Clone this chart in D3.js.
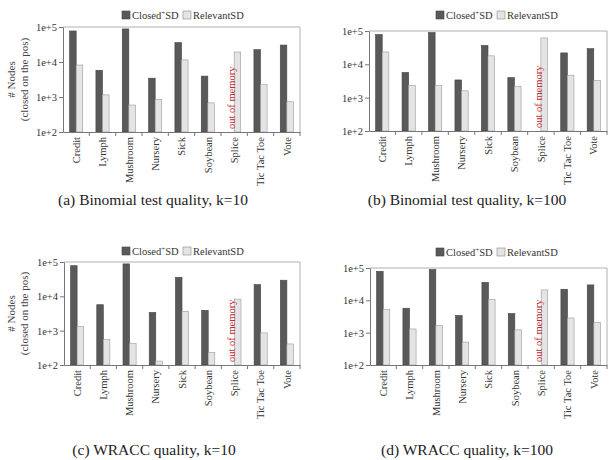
<!DOCTYPE html>
<html>
<head>
<meta charset="utf-8">
<script src="https://cdn.jsdelivr.net/npm/d3@7"></script>
<style>
  body { margin: 0; background: #fff; }
  text { font-family: "Liberation Serif", "Times New Roman", serif; }
</style>
</head>
<body>
<div id="chart"></div>
<script>
// datasets on the x axis
var categories = ["Credit", "Lymph", "Mushroom", "Nursery", "Sick", "Soybean", "Splice", "Tic Tac Toe", "Vote"];
var tickValues = [1e2, 1e3, 1e4, 1e5];
var tickLabels = ["1e+2", "1e+3", "1e+4", "1e+5"];

// # nodes, null = out of memory
var closedBinom10   = [77000, 5800, 88000, 3450, 35800, 3950, null, 22500, 30500];
var relevantBinom10 = [8200, 1150, 590, 860, 11500, 680, 19300, 2250, 730];
var closedBinom100   = [78000, 5700, 90000, 3400, 37000, 4000, null, 22000, 29500];
var relevantBinom100 = [23500, 2300, 2300, 1600, 18000, 2150, 62000, 4700, 3300];
var closedWracc10   = [78000, 5700, 88000, 3400, 35700, 3900, null, 22000, 29500];
var relevantWracc10 = [1340, 550, 420, 130, 3650, 235, 8300, 860, 410];
var closedWracc100   = [79000, 5700, 90000, 3400, 36000, 3900, null, 22000, 30000];
var relevantWracc100 = [5300, 1300, 1650, 510, 10800, 1220, 21000, 2850, 2050];

var panels = [
  {closed: closedBinom10, relevant: relevantBinom10, caption: "(a) Binomial test quality, k=10",
   left: 63, right: 300, top: 27, bottom: 132, legendX: 122, legendY: 15, capX: 153, capY: 205, yTitle: true},
  {closed: closedBinom100, relevant: relevantBinom100, caption: "(b) Binomial test quality, k=100",
   left: 369, right: 607, top: 31, bottom: 131, legendX: 436, legendY: 15, capX: 467, capY: 205, yTitle: false},
  {closed: closedWracc10, relevant: relevantWracc10, caption: "(c) WRACC quality, k=10",
   left: 64, right: 300, top: 262, bottom: 365, legendX: 122, legendY: 251, capX: 154, capY: 455, yTitle: true},
  {closed: closedWracc100, relevant: relevantWracc100, caption: "(d) WRACC quality, k=100",
   left: 370, right: 607, top: 268, bottom: 365, legendX: 436, legendY: 252, capX: 467, capY: 455, yTitle: false}
];

var darkFill = "#595959", lightFill = "#e4e4e4";

var svg = d3.select("#chart")
  .append("svg")
    .attr("width", 612)
    .attr("height", 460);

panels.forEach(function(p) {
  var g = svg.append("g");

  var x = d3.scaleBand()
    .domain(categories)
    .range([p.left, p.right]);
  var xSub = d3.scaleBand()
    .domain(["closed", "relevant"])
    .range([x.bandwidth() * 0.25, x.bandwidth() * 0.75]);
  var y = d3.scaleLog()
    .domain([100, 100000])
    .range([p.bottom, p.top]);

  // frame top / right
  g.append("path")
    .attr("d", "M" + p.left + "," + p.top + "H" + p.right + "V" + p.bottom)
    .attr("fill", "none")
    .attr("stroke", "#b0b0b0")
    .attr("stroke-width", 1);

  // y axis
  var yAxis = g.append("g")
    .attr("transform", "translate(" + p.left + ",0)")
    .call(d3.axisLeft(y).tickValues(tickValues)
      .tickFormat(function(d, i) { return tickLabels[i]; })
      .tickSize(4).tickSizeOuter(0));
  yAxis.select(".domain").attr("stroke", "#777");
  yAxis.selectAll(".tick line").attr("stroke", "#777");
  yAxis.selectAll(".tick text")
    .attr("font-size", 10.5)
    .attr("fill", "#333")
    .attr("x", -6);

  // bars
  var rows = categories.map(function(c, i) {
    return {cat: c, closed: p.closed[i], relevant: p.relevant[i]};
  });
  rows.forEach(function(r) {
    ["closed", "relevant"].forEach(function(k) {
      if (r[k] == null) return;
      g.append("rect")
        .attr("x", x(r.cat) + xSub(k))
        .attr("y", y(r[k]))
        .attr("width", xSub.bandwidth())
        .attr("height", y(100) - y(r[k]))
        .attr("fill", k == "closed" ? darkFill : lightFill)
        .attr("stroke", k == "closed" ? "#444" : "#999")
        .attr("stroke-width", 0.6);
    });
    if (r.closed == null) {
      var tx = x(r.cat) + xSub("closed") + xSub.bandwidth() / 2 + 4;
      g.append("text")
        .attr("transform", "translate(" + tx + "," + (p.bottom - 3) + ") rotate(-90)")
        .attr("font-size", 10.5)
        .attr("fill", "#c0272d")
        .text("out of memory");
    }
  });

  // x axis
  var xAxis = g.append("g")
    .attr("transform", "translate(0," + p.bottom + ")")
    .call(d3.axisBottom(x).tickSize(0).tickSizeOuter(0));
  xAxis.select(".domain").attr("stroke", "#777");
  xAxis.selectAll(".tick text")
    .attr("font-size", 10.5)
    .attr("fill", "#333")
    .attr("transform", "rotate(-90)")
    .attr("text-anchor", "end")
    .attr("x", -5)
    .attr("y", 0)
    .attr("dy", "0.35em");
  g.selectAll(".sep")
    .data(categories.slice(1).concat([null]))
    .enter()
    .append("line")
    .attr("x1", function(d) { return d == null ? p.right : x(d); })
    .attr("x2", function(d) { return d == null ? p.right : x(d); })
    .attr("y1", p.bottom)
    .attr("y2", p.bottom + 4)
    .attr("stroke", "#777");

  // legend
  var lg = g.append("g").attr("transform", "translate(" + p.legendX + "," + p.legendY + ")");
  lg.append("rect").attr("x", 0).attr("y", -4).attr("width", 8).attr("height", 8)
    .attr("fill", darkFill).attr("stroke", "#444").attr("stroke-width", 0.6);
  var t1 = lg.append("text").attr("x", 10).attr("y", 4).attr("font-size", 10.5).attr("fill", "#333");
  t1.append("tspan").text("Closed");
  t1.append("tspan").attr("dy", -4).attr("font-size", 7).text("+");
  t1.append("tspan").attr("dy", 4).text("SD");
  lg.append("rect").attr("x", 61).attr("y", -4).attr("width", 8).attr("height", 8)
    .attr("fill", lightFill).attr("stroke", "#888").attr("stroke-width", 0.6);
  lg.append("text").attr("x", 71).attr("y", 4).attr("font-size", 10.5).attr("fill", "#333")
    .text("RelevantSD");

  // y title
  if (p.yTitle) {
    var cy = (p.top + p.bottom) / 2;
    var yt = g.append("text")
      .attr("transform", "translate(15," + cy + ") rotate(-90)")
      .attr("text-anchor", "middle")
      .attr("font-size", 11)
      .attr("fill", "#444");
    yt.append("tspan").attr("x", 0).attr("dy", 0).text("# Nodes");
    yt.append("tspan").attr("x", 0).attr("dy", 13).text("(closed on the pos)");
  }

  // caption
  g.append("text")
    .attr("x", p.capX)
    .attr("y", p.capY)
    .attr("text-anchor", "middle")
    .attr("font-size", 15.5)
    .attr("fill", "#222")
    .text(p.caption);
});
</script>
</body>
</html>
